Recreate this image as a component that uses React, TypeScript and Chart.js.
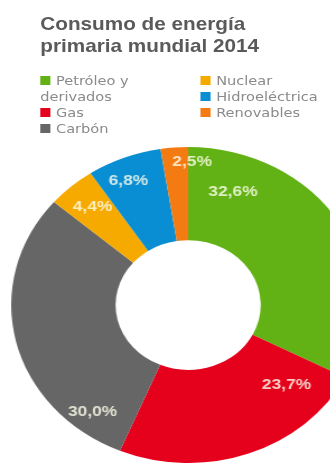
import React, { useEffect, useRef } from "react";
import { Chart, registerables } from "chart.js";

Chart.register(...registerables);

const title = ["Consumo de energía", "primaria mundial 2014"];
const categories = ["Petróleo y derivados", "Gas", "Carbón", "Nuclear", "Hidroeléctrica", "Renovables"];
const values = [32.6, 23.7, 30.0, 4.4, 6.8, 2.5];
const colors = ["#62b216", "#e5001c", "#666666", "#f6aa00", "#0a8ed3", "#f47a12"];
const legendColumns = [[0, 1, 2], [3, 4, 5]];
// label placement: degrees past each slice's start, and fraction across the ring
const labelAngleOffset = [19.5, 15, 16, 8.3, 10.3, 10.4];
const labelRingFraction = [0.59, 0.58, 0.77, 0.7, 0.76, 0.84];

const STRETCH = 1.12;

const fmt = (v: number) => v.toFixed(1).replace(".", ",") + "%";

const labelPlugin = {
  id: "arcLabels",
  afterDatasetsDraw(chart: any) {
    const ctx = chart.ctx;
    const meta = chart.getDatasetMeta(0);
    ctx.save();
    ctx.font = "bold 15.5px 'Liberation Sans', Arial, sans-serif";
    ctx.fillStyle = "rgba(255,255,238,0.8)";
    ctx.textAlign = "center";
    ctx.textBaseline = "middle";
    const deg = Math.PI / 180;
    meta.data.forEach((arc: any, i: number) => {
      const { x, y, startAngle, innerRadius, outerRadius } = arc.getProps(
        ["x", "y", "startAngle", "innerRadius", "outerRadius"],
        true
      );
      const a = startAngle + labelAngleOffset[i] * deg;
      const r = innerRadius + labelRingFraction[i] * (outerRadius - innerRadius);
      ctx.fillText(fmt(values[i]), x + r * Math.cos(a), y + r * Math.sin(a));
    });
    ctx.restore();
  },
};

export default function App() {
  const ref = useRef<HTMLCanvasElement | null>(null);

  useEffect(() => {
    if (!ref.current) return;
    const chart = new Chart(ref.current, {
      type: "doughnut",
      data: {
        labels: categories,
        datasets: [
          {
            data: values,
            backgroundColor: colors,
            borderWidth: 0,
            hoverOffset: 0,
          },
        ],
      },
      options: {
        responsive: false,
        maintainAspectRatio: false,
        animation: false,
        rotation: 0,
        cutout: "41%",
        layout: { padding: 0 },
        plugins: {
          legend: { display: false },
          tooltip: { enabled: false },
        },
      },
      plugins: [labelPlugin],
    });
    return () => chart.destroy();
  }, []);

  const legendItem = (i: number) => (
    <div key={i} style={{ lineHeight: "16px", marginBottom: 0 }}>
      <span
        style={{
          display: "inline-block",
          width: 9,
          height: 9,
          background: colors[i],
          marginRight: 5,
          verticalAlign: "0px",
        }}
      />
      {categories[i]}
    </div>
  );

  return (
    <div
      style={{
        position: "fixed",
        left: 0,
        top: 0,
        width: 330,
        height: 466,
        overflow: "hidden",
        background: "#ffffff",
      }}
    >
      <div
        style={{
          position: "absolute",
          left: 0,
          top: 0,
          width: 330 / STRETCH,
          height: 466,
          transform: `scaleX(${STRETCH})`,
          transformOrigin: "0 0",
        }}
      >
        <div
          style={{
            position: "absolute",
            left: 36,
            top: 13,
            fontFamily: "'Liberation Sans', Arial, sans-serif",
            fontWeight: "bold",
            fontSize: 18.5,
            lineHeight: "22px",
            color: "#5a5a5a",
            whiteSpace: "nowrap",
          }}
        >
          {title.map((t, i) => (
            <div key={i}>{t}</div>
          ))}
        </div>
        {legendColumns.map((col, ci) => (
          <div
            key={ci}
            style={{
              position: "absolute",
              left: ci === 0 ? 36 : 179,
              top: 73,
              width: ci === 0 ? 110 : 130,
              fontFamily: "'DejaVu Sans', sans-serif",
              fontSize: 13,
              color: "#8a8a8a",
            }}
          >
            {col.map((i) => legendItem(i))}
          </div>
        ))}
        <canvas
          ref={ref}
          width={316}
          height={316}
          style={{ position: "absolute", left: 10, top: 147, width: 316, height: 316 }}
        />
      </div>
    </div>
  );
}
